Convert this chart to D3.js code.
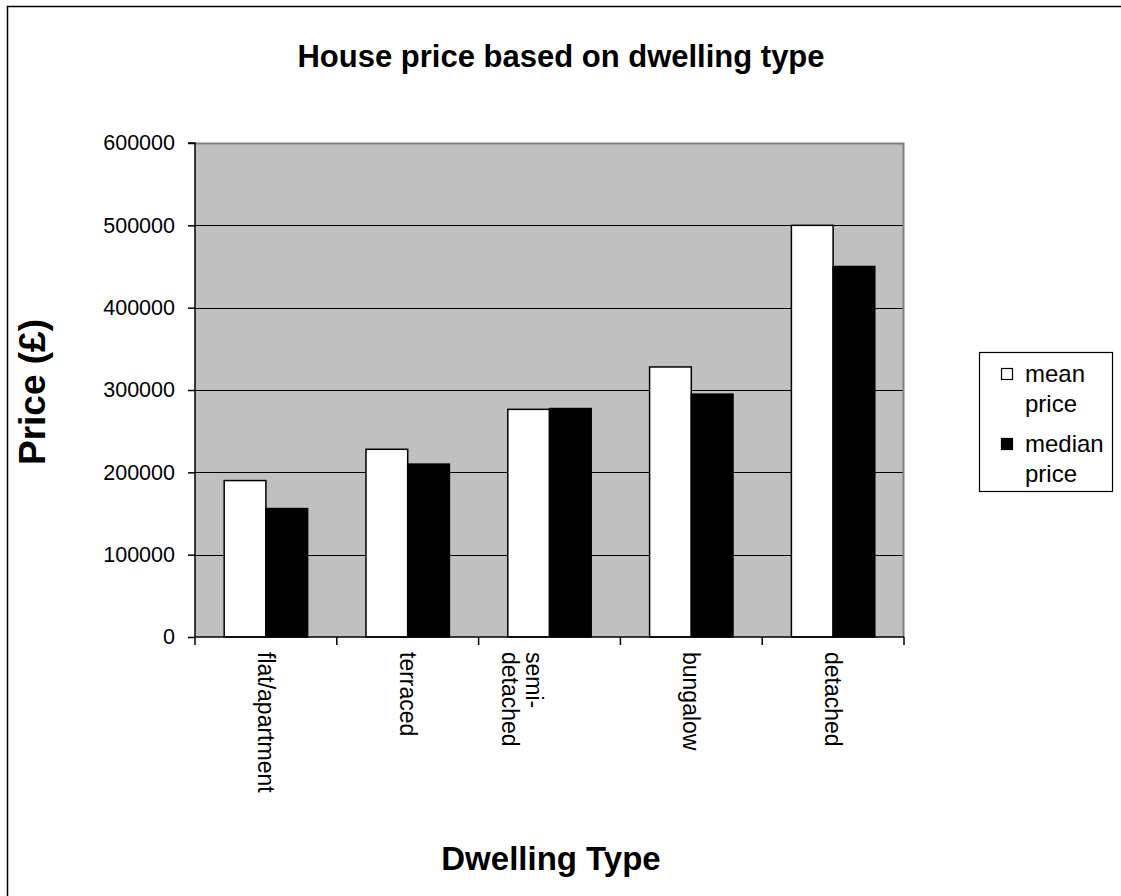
<!DOCTYPE html>
<html>
<head>
<meta charset="utf-8">
<script src="https://cdn.jsdelivr.net/npm/d3@7"></script>
<style>
  html, body { margin: 0; padding: 0; background: #fff; }
  svg { display: block; font-family: "Liberation Sans", Arial, sans-serif; }
</style>
</head>
<body>
<svg id="chart" width="1121" height="896"></svg>
<script>
// Dwelling types and their price statistics (GBP)
const categories = ["flat/apartment", "terraced", "semi-detached", "bungalow", "detached"];
const categoryLines = [["flat/apartment"], ["terraced"], ["semi-", "detached"], ["bungalow"], ["detached"]];
const seriesNames = ["mean price", "median price"];
const meanPrice = [190000, 228000, 276500, 328000, 500000];
const medianPrice = [156000, 210000, 277500, 295000, 450000];
const yTicks = [0, 100000, 200000, 300000, 400000, 500000, 600000];
const seriesFill = ["#ffffff", "#000000"];

const svg = d3.select("#chart");

// outer chart frame
svg.append("rect")
  .attr("x", 7.5).attr("y", 6.5)
  .attr("width", 1130).attr("height", 900)
  .attr("fill", "#fff").attr("stroke", "#000").attr("stroke-width", 1.5);

const plot = { left: 195, right: 904, top: 143, bottom: 637 };

const x = d3.scaleBand().domain(categories).range([plot.left, plot.right]).padding(0);
const groupWidth = x.bandwidth() / 1.7;
const xs = d3.scaleBand().domain(seriesNames).range([-groupWidth / 2, groupWidth / 2]);
const y = d3.scaleLinear().domain([0, 600000]).range([plot.bottom, plot.top]);

// plot background
svg.append("rect")
  .attr("x", plot.left).attr("y", plot.top)
  .attr("width", plot.right - plot.left).attr("height", plot.bottom - plot.top)
  .attr("fill", "#c0c0c0");

// horizontal gridlines
svg.append("g").selectAll("line").data(yTicks.filter(d => d > 0 && d < 600000)).join("line")
  .attr("x1", plot.left).attr("x2", plot.right)
  .attr("y1", d => Math.round(y(d)) + 0.5).attr("y2", d => Math.round(y(d)) + 0.5)
  .attr("stroke", "#000").attr("stroke-width", 1);

// plot border: grey on top and right
svg.append("path")
  .attr("d", `M${plot.left},${plot.top + 0.5}H${plot.right - 0.5}V${plot.bottom}`)
  .attr("fill", "none").attr("stroke", "#808080").attr("stroke-width", 2);

// bars
const rows = categories.map((c, i) => ({ c, vals: [meanPrice[i], medianPrice[i]] }));
const groups = svg.append("g").selectAll("g").data(rows).join("g")
  .attr("transform", d => `translate(${x(d.c) + x.bandwidth() / 2},0)`);
groups.selectAll("rect").data(d => d.vals.map((v, k) => ({ v, s: seriesNames[k], k }))).join("rect")
  .attr("x", d => xs(d.s))
  .attr("width", xs.bandwidth())
  .attr("y", d => y(d.v))
  .attr("height", d => y(0) - y(d.v))
  .attr("fill", d => seriesFill[d.k])
  .attr("stroke", "#000").attr("stroke-width", 1.5);

// y axis
const yAxis = d3.axisLeft(y).tickValues(yTicks).tickSize(7).tickPadding(13).tickFormat(d3.format("d"));
const gy = svg.append("g").attr("transform", `translate(${plot.left},0)`).call(yAxis);
gy.select(".domain").attr("stroke", "#000").attr("stroke-width", 1.5).attr("d", `M-7,${plot.top}H0V${plot.bottom}`);
gy.selectAll(".tick line").attr("stroke", "#000").attr("stroke-width", 1.5);
gy.selectAll(".tick text").attr("font-size", 21.5).attr("fill", "#000")
  .attr("font-family", "'Liberation Sans', Arial, sans-serif");

// x axis line and category boundary ticks
const gx = svg.append("g");
gx.append("line").attr("x1", plot.left).attr("x2", plot.right)
  .attr("y1", plot.bottom).attr("y2", plot.bottom)
  .attr("stroke", "#000").attr("stroke-width", 1.5);
const bounds = categories.map(c => x(c)).concat([plot.right]);
gx.selectAll("line.tk").data(bounds).join("line").attr("class", "tk")
  .attr("x1", d => d).attr("x2", d => d)
  .attr("y1", plot.bottom).attr("y2", plot.bottom + 8)
  .attr("stroke", "#000").attr("stroke-width", 1.5);

// category labels, rotated to read downward; wrapped labels sit left of centre
categories.forEach((c, i) => {
  const lines = categoryLines[i];
  const cx = x(c) + x.bandwidth() / 2;
  const shift = lines.length > 1 ? 28 : 0;
  const t = svg.append("text")
    .attr("transform", `translate(${cx},652) rotate(90)`)
    .attr("font-size", 23).attr("fill", "#000");
  lines.forEach((ln, j) => {
    t.append("tspan")
      .attr("x", 0)
      .attr("y", (j - (lines.length - 1) / 2) * 24 + 8 + shift)
      .text(ln);
  });
});

// title
svg.append("text").attr("x", 561).attr("y", 67).attr("text-anchor", "middle")
  .attr("font-size", 31).attr("font-weight", "bold").text("House price based on dwelling type");

// axis titles
svg.append("text").attr("x", 551).attr("y", 870).attr("text-anchor", "middle")
  .attr("font-size", 33).attr("font-weight", "bold").text("Dwelling Type");
svg.append("text").attr("transform", "translate(45,392) rotate(-90)").attr("text-anchor", "middle")
  .attr("font-size", 37).attr("font-weight", "bold").text("Price (£)");

// legend
const legend = svg.append("g");
legend.append("rect").attr("x", 979.5).attr("y", 352.5).attr("width", 133).attr("height", 139)
  .attr("fill", "#fff").attr("stroke", "#000").attr("stroke-width", 1.2);
const legendLines = [["mean", "price"], ["median", "price"]];
seriesNames.forEach((s, k) => {
  const base = 382 + k * 70;
  legend.append("rect").attr("x", 1001.5).attr("y", base - 13.5).attr("width", 11).attr("height", 11)
    .attr("fill", seriesFill[k]).attr("stroke", "#000").attr("stroke-width", 1.2);
  legendLines[k].forEach((ln, j) => {
    legend.append("text").attr("x", 1025).attr("y", base + j * 30)
      .attr("font-size", 24).attr("fill", "#000").text(ln);
  });
});
</script>
</body>
</html>
